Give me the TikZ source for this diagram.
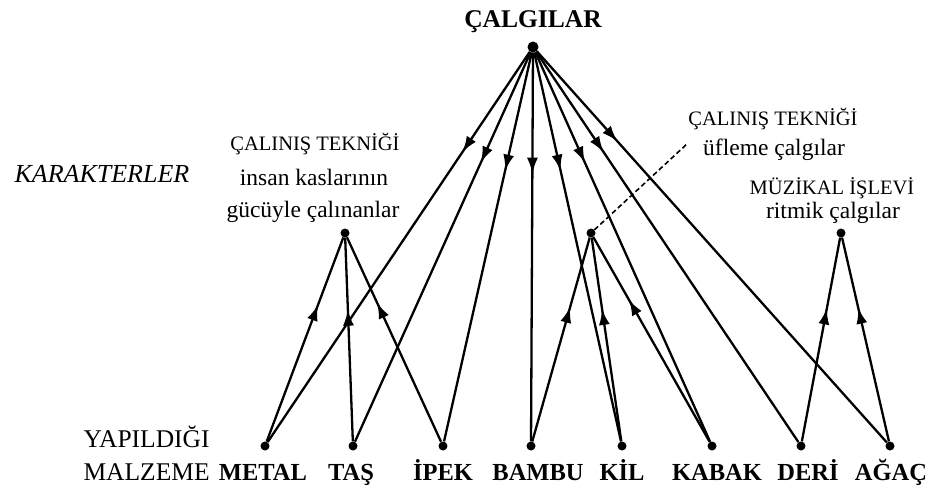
\documentclass[tikz,border=0pt]{standalone}
\usepackage{fontspec}
\setmainfont{Liberation Serif}
\usetikzlibrary{arrows.meta,decorations.markings}

\tikzset{
  knot/.style={circle,fill,inner sep=0pt,minimum size=9pt},
  edge line/.style={line width=2.3pt},
  downedge/.style={edge line,postaction={decorate},
    decoration={markings,mark=at position 121pt with {\arrow{Latex[length=16pt,width=11pt]}}}},
  upedge/.style={edge line,postaction={decorate},
    decoration={markings,mark=at position -72pt with {\arrow{Latex[length=16pt,width=11pt]}}}},
  capsline/.style={anchor=base,font=\fontsize{20.5}{24}\selectfont},
  lowline/.style={anchor=base,font=\fontsize{23.5}{28}\selectfont},
  matname/.style={anchor=base,font=\fontsize{24.5}{28}\selectfont\bfseries},
  sidename/.style={anchor=base west,font=\fontsize{25.5}{30}\selectfont}
}

\begin{document}
\begin{tikzpicture}[x=1pt,y=-1pt]
  \useasboundingbox (0,0) rectangle (933,487);

  % nodes
  \node[knot,minimum size=11pt] (root) at (533,47) {};
  \node[knot] (lt) at (345,233) {};
  \node[knot] (md) at (591,233) {};
  \node[knot] (rt) at (841,233) {};
  \foreach \n/\x in {metal/265,tas/353,ipek/443,bambu/531,kil/622,kabak/712,deri/801,agac/890}
    \node[knot] (\n) at (\x,446) {};

  % edges
  \foreach \n in {metal,tas,ipek,bambu,kil,kabak,deri,agac}
    \draw[downedge] (root) -- (\n);
  \foreach \n in {metal,tas,ipek}
    \draw[upedge] (\n) -- (lt);
  \foreach \n in {bambu,kil,kabak}
    \draw[upedge] (\n) -- (md);
  \foreach \n in {deri,agac}
    \draw[upedge] (\n) -- (rt);
  \coordinate (windtip) at (688,143);
  \draw[line width=1.6pt,dash pattern=on 5pt off 3pt] (md) -- (windtip);

  % labels
  \node[anchor=base,font=\fontsize{25.5}{30}\selectfont\bfseries] (title) at (533,28) {ÇALGILAR};
  \node[anchor=base west,font=\fontsize{26}{30}\selectfont\itshape] (kar) at (11,182) {KARAKTERLER};

  \node[capsline] (lt1) at (315,150) {ÇALINIŞ TEKNİĞİ};
  \node[lowline] (lt2) at (314,185) {insan kaslarının};
  \node[lowline] (lt3) at (313,217) {gücüyle çalınanlar};

  \node[capsline] (md1) at (773,125) {ÇALINIŞ TEKNİĞİ};
  \node[lowline] (md2) at (774,155) {üfleme çalgılar};

  \node[capsline] (rt1) at (832,194) {MÜZİKAL İŞLEVİ};
  \node[lowline] (rt2) at (833,218) {ritmik çalgılar};

  \node[sidename] (yap) at (80,447) {YAPILDIĞI};
  \node[sidename] (malz) at (80,480) {MALZEME};

  \foreach \n/\x/\t in {metal/263/METAL,tas/351/TAŞ,ipek/443/İPEK,bambu/538/BAMBU,kil/622/KİL,kabak/717/KABAK,deri/808/DERİ,agac/891/AĞAÇ}
    \node[matname] (lbl\n) at (\x,480) {\t};
\end{tikzpicture}
\end{document}
